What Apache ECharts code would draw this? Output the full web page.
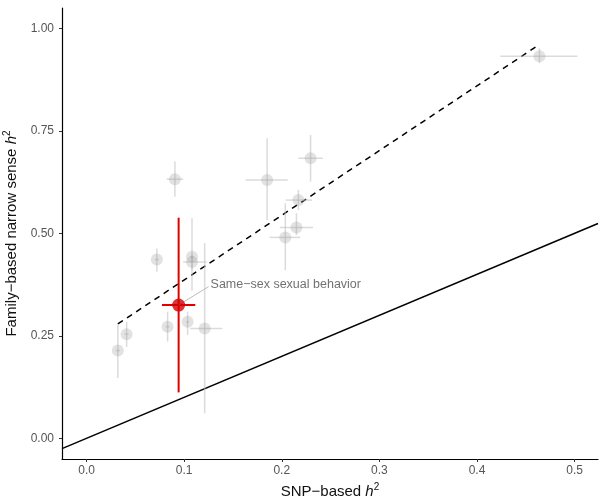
<!DOCTYPE html>
<html>
<head>
<meta charset="utf-8">
<script src="https://cdn.jsdelivr.net/npm/echarts@6/dist/echarts.min.js"></script>
<style>html,body{margin:0;padding:0;background:#fff}#c{width:600px;height:502px}</style>
</head>
<body>
<div id="c"></div>
<script>
// Traits: SNP-based h2 (x) vs family-based narrow sense h2 (y)
const snpH2    = [0.032, 0.041, 0.072, 0.0905, 0.108, 0.108, 0.1035, 0.083, 0.121, 0.185, 0.2295, 0.217, 0.215, 0.2036, 0.464];
const snpLo    = [0.030, 0.039, 0.070, 0.082,  0.106, 0.099, 0.102,  0.081, 0.106, 0.163, 0.217,  0.204, 0.198, 0.1875, 0.424];
const snpHi    = [0.034, 0.043, 0.074, 0.099,  0.110, 0.123, 0.105,  0.085, 0.139, 0.206, 0.242,  0.231, 0.232, 0.219,  0.503];
const famH2    = [0.214, 0.254, 0.436, 0.632,  0.443, 0.430, 0.284,  0.272, 0.268, 0.630, 0.683,  0.581, 0.514, 0.490,  0.932];
const famLo    = [0.147, 0.223, 0.406, 0.589,  0.360, 0.410, 0.252,  0.236, 0.061, 0.532, 0.626,  0.557, 0.496, 0.410,  0.915];
const famHi    = [0.277, 0.284, 0.463, 0.675,  0.537, 0.450, 0.309,  0.309, 0.476, 0.732, 0.740,  0.606, 0.549, 0.573,  0.951];

// Highlighted trait
const ssbLabel = 'Same\u2212sex sexual behavior';
const ssb = {x: 0.0943, xLo: 0.0772, xHi: 0.1114, y: 0.325, yLo: 0.112, yHi: 0.538};
const ssbLabelPos = [0.127, 0.374];

// Reference lines
const identityX = [-0.0252, 0.524];
const fitLineX = [0.032, 0.4605];
const fitLineY = [0.279, 0.955];

const xTicks = [0, 0.1, 0.2, 0.3, 0.4, 0.5];
const yTicks = [0, 0.25, 0.5, 0.75, 1.0];
const xRange = [-0.0252, 0.524];
const yRange = [-0.0505, 1.0495];

const grayPts = snpH2.map((v, i) => [v, famH2[i], snpLo[i], snpHi[i], famLo[i], famHi[i]]);
const redPts = [[ssb.x, ssb.y, ssb.xLo, ssb.xHi, ssb.yLo, ssb.yHi]];

function errRender(color, width) {
  return function (params, api) {
    const x = api.value(0), y = api.value(1);
    const pL = api.coord([api.value(2), y]);
    const pR = api.coord([api.value(3), y]);
    const pB = api.coord([x, api.value(4)]);
    const pT = api.coord([x, api.value(5)]);
    const st = {stroke: color, lineWidth: width};
    return {type: 'group', children: [
      {type: 'line', shape: {x1: pL[0], y1: pL[1], x2: pR[0], y2: pR[1]}, style: st},
      {type: 'line', shape: {x1: pB[0], y1: pB[1], x2: pT[0], y2: pT[1]}, style: st}
    ]};
  };
}

const chart = echarts.init(document.getElementById('c'), null, {renderer: 'canvas'});
const FONT = '"Liberation Sans", Arial, sans-serif';
chart.setOption({
  animation: false,
  grid: {left: 62, right: 2, top: 8, bottom: 43, containLabel: false, outerBoundsMode: 'none'},
  xAxis: {
    type: 'value', min: xRange[0], max: xRange[1],
    axisLine: {show: true, onZero: false, lineStyle: {color: '#000', width: 1.2}},
    axisTick: {show: true, customValues: xTicks, length: 3, lineStyle: {color: '#333'}},
    axisLabel: {customValues: xTicks, formatter: v => v.toFixed(1), color: '#555', fontSize: 12, fontFamily: FONT, margin: 6},
    splitLine: {show: false},
    name: '{a|SNP\u2212based }{i|h}{s|2}',
    nameLocation: 'middle', nameGap: 20,
    nameTextStyle: {
      rich: {
        a: {fontSize: 15, color: '#111', fontFamily: FONT},
        i: {fontSize: 15, color: '#111', fontFamily: FONT, fontStyle: 'italic'},
        s: {fontSize: 10, color: '#111', fontFamily: FONT, padding: [0, 0, 9, 0]}
      }
    }
  },
  yAxis: {
    type: 'value', min: yRange[0], max: yRange[1],
    axisLine: {show: true, onZero: false, lineStyle: {color: '#000', width: 1.2}},
    axisTick: {show: true, customValues: yTicks, length: 3, lineStyle: {color: '#333'}},
    axisLabel: {customValues: yTicks, formatter: v => v.toFixed(2), color: '#555', fontSize: 12, fontFamily: FONT, margin: 8},
    splitLine: {show: false},
    name: '{a|Family\u2212based narrow sense }{i|h}{s|2}',
    nameLocation: 'middle', nameGap: 36,
    nameTextStyle: {
      rich: {
        a: {fontSize: 15, color: '#111', fontFamily: FONT},
        i: {fontSize: 15, color: '#111', fontFamily: FONT, fontStyle: 'italic'},
        s: {fontSize: 10, color: '#111', fontFamily: FONT, padding: [0, 0, 9, 0]}
      }
    }
  },
  series: [
    {
      type: 'line', data: identityX.map(v => [v, v]), symbol: 'none',
      lineStyle: {color: '#000', width: 1.5}, silent: true, z: 2
    },
    {
      type: 'line', data: fitLineX.map((v, i) => [v, fitLineY[i]]), symbol: 'none',
      lineStyle: {color: '#000', width: 1.5, type: [6, 5]}, silent: true, z: 2
    },
    {
      type: 'custom', data: grayPts, renderItem: errRender('rgba(190,190,190,0.55)', 1.5), z: 3, silent: true
    },
    {
      type: 'scatter', data: grayPts.map(p => [p[0], p[1]]), symbolSize: 12,
      itemStyle: {color: 'rgba(150,150,150,0.35)'}, z: 4, silent: true
    },
    {
      type: 'custom', data: redPts, renderItem: errRender('#e00000', 2), z: 5, silent: true
    },
    {
      type: 'scatter', data: redPts.map(p => [p[0], p[1]]), symbolSize: 13,
      itemStyle: {color: '#d40000'}, z: 6, silent: true
    },
    {
      type: 'line', data: [[ssb.x, ssb.y], [ssbLabelPos[0] - 0.002, ssbLabelPos[1] - 0.004]], symbol: 'none',
      lineStyle: {color: '#bbbbbb', width: 1}, silent: true, z: 6
    },
    {
      type: 'scatter', data: [ssbLabelPos], symbolSize: 0, silent: true, z: 7,
      label: {show: true, position: 'right', distance: 0, formatter: ssbLabel, color: '#4d4d4d', fontSize: 12.5, fontFamily: FONT}
    }
  ]
});
</script>
</body>
</html>
